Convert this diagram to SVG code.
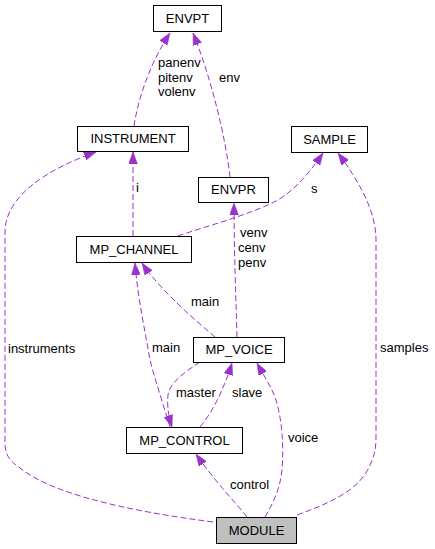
<svg xmlns="http://www.w3.org/2000/svg" width="435" height="549" viewBox="0 0 435 549">
<style>
.box{fill:#ffffff;stroke:#000000;stroke-width:1}
.root{fill:#bfbfbf;stroke:#000000;stroke-width:1}
.nt{font-family:"Liberation Sans",Arial,sans-serif;font-size:13px;fill:#000000;text-anchor:middle}
.lt{font-family:"Liberation Sans",Arial,sans-serif;font-size:13px;fill:#000000}
.e{fill:none;stroke:#9a32cd;stroke-width:1;stroke-dasharray:6,3;marker-end:url(#ah)}
</style>
<defs>
<marker id="ah" markerUnits="userSpaceOnUse" viewBox="0 0 12 9" refX="12" refY="4.5" markerWidth="12" markerHeight="9" orient="auto">
<path d="M0,0 L12,4.5 L0,9 z" fill="#9a32cd" stroke="#9a32cd" stroke-width="0.5" stroke-dasharray="none"/>
</marker>
</defs>
<rect width="435" height="549" fill="#ffffff"/>
<g id="connectors">
<path class="e" d="M134,126 C137,105 147,68 170,33"/>
<path class="e" d="M230,177 C226,140 212,80 193,33"/>
<path class="e" d="M133,236 L133,152"/>
<path class="e" d="M178,236 C200,228 250,215 278,200 C296,189 310,172 323,153"/>
<path class="e" d="M237,337 C236,300 234,250 234,203"/>
<path class="e" d="M215,337 C195,320 160,290 142,263"/>
<path class="e" d="M170,427 C165,410 155,380 150,360 C145,330 138,300 135,263"/>
<path class="e" d="M200,362 C185,372 170,382 168,395 C167,405 168,415 172,427"/>
<path class="e" d="M200,427 C210,415 222,395 232,363"/>
<path class="e" d="M265,517 C272,505 280,490 282,470 C284,445 282,420 276,400 C272,388 264,376 257,363"/>
<path class="e" d="M247,517 C238,505 215,482 196,454"/>
<path class="e" d="M213,522 C160,515 60,500 20,468 C5,458 5,450 5,440 L5,232 C5,195 50,168 96,152"/>
<path class="e" d="M297,515 C330,503 360,490 370,465 C376,452 376,445 376,435 L376,240 C376,210 358,180 338,153"/>
</g>
<g id="labels">
<text class="lt" x="158" y="67">panenv</text>
<text class="lt" x="158" y="82">pitenv</text>
<text class="lt" x="158" y="96">volenv</text>
<text class="lt" x="219" y="82">env</text>
<text class="lt" x="136" y="192">i</text>
<text class="lt" x="311" y="193">s</text>
<text class="lt" x="240" y="237">venv</text>
<text class="lt" x="238" y="252">cenv</text>
<text class="lt" x="238" y="267">penv</text>
<text class="lt" x="191" y="306">main</text>
<text class="lt" x="152" y="352">main</text>
<text class="lt" x="8" y="353">instruments</text>
<text class="lt" x="380" y="352">samples</text>
<text class="lt" x="176" y="397">master</text>
<text class="lt" x="232" y="397">slave</text>
<text class="lt" x="288" y="442">voice</text>
<text class="lt" x="230" y="489">control</text>
</g>
<g id="ENVPT"><rect class="box" x="153.5" y="5.5" width="68" height="26"/><text class="nt" x="187.5" y="22.5">ENVPT</text></g>
<g id="INSTRUMENT"><rect class="box" x="77.5" y="126.5" width="111" height="25"/><text class="nt" x="133" y="143">INSTRUMENT</text></g>
<g id="SAMPLE"><rect class="box" x="291.5" y="126.5" width="76" height="26"/><text class="nt" x="329.5" y="143.5">SAMPLE</text></g>
<g id="ENVPR"><rect class="box" x="198.5" y="177.5" width="70" height="25"/><text class="nt" x="233.5" y="194">ENVPR</text></g>
<g id="MP_CHANNEL"><rect class="box" x="76.5" y="236.5" width="115" height="26"/><text class="nt" x="134" y="253.5">MP_CHANNEL</text></g>
<g id="MP_VOICE"><rect class="box" x="193.5" y="337.5" width="91" height="25"/><text class="nt" x="239" y="354">MP_VOICE</text></g>
<g id="MP_CONTROL"><rect class="box" x="126.5" y="427.5" width="116" height="26"/><text class="nt" x="184.5" y="444.5">MP_CONTROL</text></g>
<g id="MODULE"><rect class="root" x="216.5" y="517.5" width="80" height="26"/><text class="nt" x="256.5" y="534.5">MODULE</text></g>
</svg>
